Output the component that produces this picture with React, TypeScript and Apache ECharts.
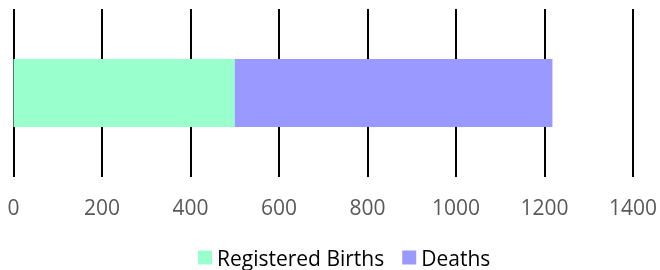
import React, { useEffect, useRef } from "react";
import * as echarts from "echarts";

const categories = ["Total"];
const seriesNames = ["Registered Births", "Deaths"];
const birthsValues = [500];
const deathsValues = [718];
const colors = ["#99FFCC", "#9999FF"];

export default function App() {
  const ref = useRef<HTMLDivElement>(null);
  useEffect(() => {
    if (!ref.current) return;
    const chart = echarts.init(ref.current, null, { renderer: "svg" });
    chart.setOption({
      animation: false,
      textStyle: { fontFamily: "Open Sans" },
      grid: { left: 13.5, right: 24.3, top: 9, bottom: 93, containLabel: false },
      xAxis: {
        type: "value",
        min: 0,
        max: 1400,
        interval: 200,
        axisLine: { show: false },
        axisTick: { show: false },
        splitLine: { show: true, lineStyle: { color: "#000", width: 2 } },
        axisLabel: {
          color: "#595959",
          fontSize: 21,
          margin: 19,
          fontFamily: "Open Sans",
          formatter: (v: number) => String(v),
        },
      },
      yAxis: {
        type: "category",
        data: categories,
        axisLine: { show: false },
        axisTick: { show: false },
        axisLabel: { show: false },
        splitLine: { show: false },
      },
      legend: {
        bottom: -3,
        left: 193,
        itemWidth: 14,
        itemHeight: 14,
        itemGap: 18,
        icon: "rect",
        textStyle: { color: "#000", fontSize: 21, fontFamily: "Open Sans" },
        data: seriesNames,
      },
      series: [
        {
          name: seriesNames[0],
          type: "bar",
          stack: "total",
          data: birthsValues,
          barWidth: 68,
          itemStyle: { color: colors[0] },
        },
        {
          name: seriesNames[1],
          type: "bar",
          stack: "total",
          data: deathsValues,
          barWidth: 68,
          itemStyle: { color: colors[1] },
        },
      ],
    });
    return () => chart.dispose();
  }, []);
  return (
    <div
      ref={ref}
      style={{ position: "fixed", left: 0, top: 0, width: 660, height: 270 }}
    />
  );
}
